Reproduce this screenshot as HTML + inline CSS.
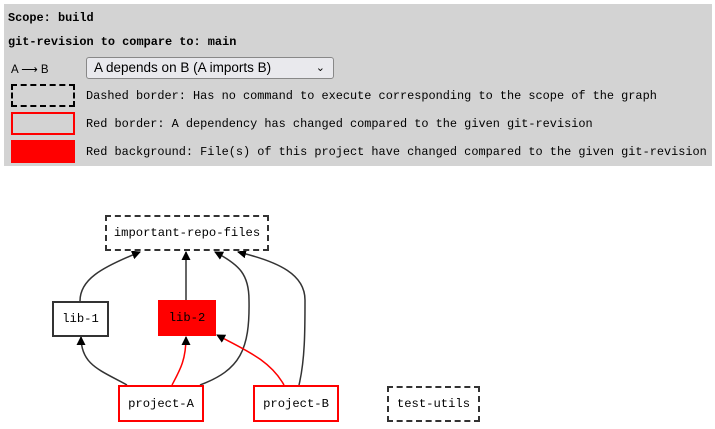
<!DOCTYPE html>
<html><head><meta charset="utf-8"><style>
body{margin:0;width:715px;height:429px;background:#fff;position:relative;overflow:hidden;font-family:"Liberation Mono",monospace;font-size:11.9px;color:#000}
.p{position:absolute;left:4px;top:4px;width:708px;height:162px;background:#d3d3d3}
.t{position:absolute;white-space:nowrap;line-height:14px}
.b{font-weight:bold}
.box{position:absolute;box-sizing:border-box}
.sel{position:absolute;left:86px;top:57px;width:248px;height:22px;box-sizing:border-box;border:1px solid #888;border-radius:3px;background:#e9e9ed;font-family:"Liberation Sans",sans-serif;font-size:13.5px;line-height:20px;padding-left:7px}
.node{position:absolute;box-sizing:border-box;text-align:center;white-space:nowrap;display:flex;align-items:center;justify-content:center;background:#fff;font-size:12.2px}
</style></head><body>
<div class="p"></div>
<div class="t b" style="left:8px;top:11px">Scope: build</div>
<div class="t b" style="left:8px;top:35px">git-revision to compare to: main</div>
<div class="t" style="left:11px;top:63px;font-family:'Liberation Sans',sans-serif;font-size:11.5px">A &#x27F6; B</div>
<div class="sel">A depends on B (A imports B)<span style="position:absolute;right:8px;top:0;font-size:11px">&#x2304;</span></div>
<div class="box" style="left:11px;top:84px;width:64px;height:23px;border:2px dashed #000"></div>
<div class="box" style="left:11px;top:112px;width:64px;height:23px;border:2px solid #f00"></div>
<div class="box" style="left:11px;top:140px;width:64px;height:23px;background:#f00"></div>
<div class="t" style="left:86px;top:89px">Dashed border: Has no command to execute corresponding to the scope of the graph</div>
<div class="t" style="left:86px;top:117px">Red border: A dependency has changed compared to the given git-revision</div>
<div class="t" style="left:86px;top:145px">Red background: File(s) of this project have changed compared to the given git-revision</div>

<svg width="715" height="429" style="position:absolute;left:0;top:0">
<defs>
<marker id="ab" markerWidth="9" markerHeight="9" refX="8" refY="4.5" orient="auto" markerUnits="userSpaceOnUse"><path d="M0,0L9,4.5L0,9z" fill="#000"/></marker>
</defs>
<g fill="none" stroke-width="1.5">
<path d="M80,301 C80,280 100,268 140,252" stroke="#333" marker-end="url(#ab)"/>
<path d="M186,300 L186,252" stroke="#333" marker-end="url(#ab)"/>
<path d="M200,385 C240,370 250,350 249,300 C249,275 240,265 215,252" stroke="#333" marker-end="url(#ab)"/>
<path d="M299,385 C305,360 305,330 305,300 C305,275 280,262 238,252" stroke="#333" marker-end="url(#ab)"/>
<path d="M127,385 C100,370 81,365 81,337" stroke="#333" marker-end="url(#ab)"/>
<path d="M172,385 C180,370 186,360 186,337" stroke="#f00" marker-end="url(#ab)"/>
<path d="M284,385 C270,360 245,350 217,335" stroke="#f00" marker-end="url(#ab)"/>
</g>
</svg>
<div class="node" style="left:105px;top:215px;width:164px;height:36px;border:2px dashed #333">important-repo-files</div>
<div class="node" style="left:52px;top:301px;width:57px;height:36px;border:2px solid #333">lib-1</div>
<div class="node" style="left:158px;top:300px;width:58px;height:36px;background:#f00">lib-2</div>
<div class="node" style="left:118px;top:385px;width:86px;height:37px;border:2px solid #f00">project-A</div>
<div class="node" style="left:253px;top:385px;width:86px;height:37px;border:2px solid #f00">project-B</div>
<div class="node" style="left:387px;top:386px;width:93px;height:36px;border:2px dashed #333">test-utils</div>
</body></html>
